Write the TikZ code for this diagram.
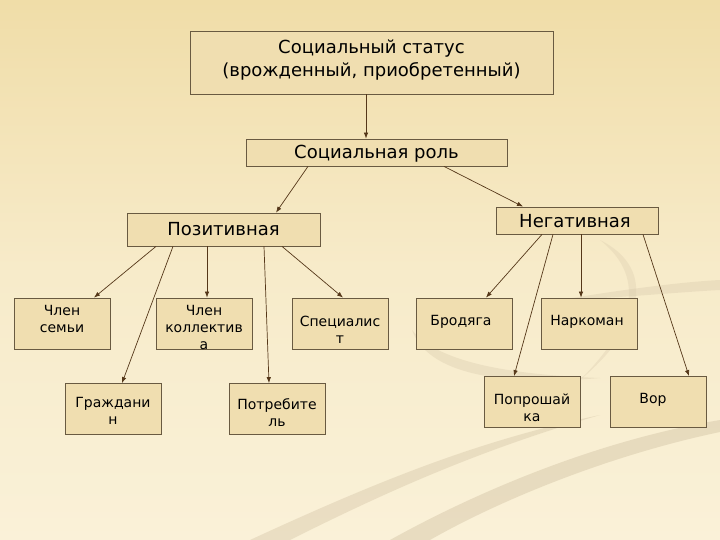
\documentclass[tikz,border=0pt]{standalone}
\usepackage{fontspec}
\setmainfont{DejaVu Sans}
\usetikzlibrary{arrows.meta}
\definecolor{bgtop}{RGB}{240,221,168}
\definecolor{bgbot}{RGB}{250,241,216}
\definecolor{boxfill}{RGB}{240,222,176}
\definecolor{boxline}{RGB}{105,90,65}
\definecolor{arrowc}{RGB}{85,55,25}
\definecolor{swoosh}{RGB}{215,200,170}
\tikzset{
  box/.style={draw=boxline, fill=boxfill, line width=0.8pt, inner sep=0pt},
  smallbox/.style={box, minimum width=96pt, minimum height=51pt},
  txt/.style={align=center, inner sep=0pt, font=\fontsize{14}{17}\selectfont},
  bigtxt/.style={align=center, inner sep=0pt, font=\fontsize{18}{23}\selectfont},
  conn/.style={draw=arrowc, line width=0.7pt, -{Latex[length=6pt,width=4.5pt]}}
}
\begin{document}
\begin{tikzpicture}[x=1pt,y=-1pt]
\useasboundingbox (0,0) rectangle (720,540);
% background
\shade[top color=bgtop, bottom color=bgbot, middle color=bgbot!70!bgtop, shading angle=0] (0,0) rectangle (720,540);
% swooshes
\fill[swoosh, opacity=0.45] (250,540) .. controls (380,480) and (480,440) .. (600,415) .. controls (480,450) and (390,490) .. (290,540) -- cycle;
\fill[swoosh, opacity=0.5] (390,540) .. controls (480,490) and (600,440) .. (720,420) -- (720,432) .. controls (610,455) and (500,500) .. (430,540) -- cycle;
\fill[swoosh, opacity=0.35] (412,330) .. controls (430,380) and (520,385) .. (600,378) .. controls (520,375) and (440,365) .. (412,330) -- cycle;
\fill[swoosh, opacity=0.35] (560,300) .. controls (620,290) and (680,282) .. (720,280) -- (720,290) .. controls (680,292) and (620,298) .. (560,300) -- cycle;
\fill[swoosh, opacity=0.3] (600,240) .. controls (660,270) and (640,330) .. (580,380) .. controls (630,330) and (650,280) .. (600,240) -- cycle;

% boxes
\node[box, minimum width=363pt, minimum height=63pt] (top) at (371.5,62.5) {};
\node[bigtxt] at (371.5,60) {Социальный статус\\(врожденный, приобретенный)};
\node[box, minimum width=261pt, minimum height=27pt] (role) at (376.5,152.5) {};
\node[bigtxt] at (376.5,154) {Социальная роль};
\node[box, minimum width=193pt, minimum height=33pt] (pos) at (223.5,229.5) {};
\node[bigtxt] at (223.5,229) {Позитивная};
\node[box, minimum width=162pt, minimum height=27pt] (neg) at (577,220.5) {};
\node[bigtxt] at (575,221) {Негативная};

\node[smallbox] (fam) at (62,323.5) {};
\node[txt] at (62,318.5) {Член\\семьи};
\node[smallbox] (col) at (204,323.5) {};
\node[txt] at (204,327) {Член\\коллектив\\а};
\node[smallbox] (spec) at (340,323.5) {};
\node[txt] at (340,330) {Специалис\\т};
\node[smallbox] (brod) at (464,323.5) {};
\node[txt] at (461,322) {Бродяга};
\node[smallbox] (nark) at (589,323.5) {};
\node[txt] at (587,322) {Наркоман};
\node[smallbox] (cit) at (113,409) {};
\node[txt] at (113,411) {Граждани\\н};
\node[smallbox] (cons) at (277,409) {};
\node[txt] at (277,413) {Потребите\\ль};
\node[smallbox] (beg) at (532,402) {};
\node[txt] at (532,408) {Попрошай\\ка};
\node[smallbox] (thief) at (658,402) {};
\node[txt] at (653,400) {Вор};

% connectors
\draw[conn] ([xshift=-5.5pt]top.south) -- ([xshift=-10.5pt]role.north);
\draw[conn] ([xshift=-68.5pt]role.south) -- ([xshift=52.5pt]pos.north);
\draw[conn] ([xshift=67.5pt]role.south) -- ([xshift=-54pt]neg.north);

\draw[conn] ([xshift=-67.5pt]pos.south) -- ([xshift=32pt]fam.north);
\draw[conn] ([xshift=-50.5pt]pos.south) -- ([xshift=9pt]cit.north);
\draw[conn] ([xshift=-16.5pt]pos.south) -- ([xshift=3pt]col.north);
\draw[conn] ([xshift=40.5pt]pos.south) -- ([xshift=-8pt]cons.north);
\draw[conn] ([xshift=58.5pt]pos.south) -- ([xshift=3pt]spec.north);

\draw[conn] ([xshift=-35pt]neg.south) -- ([xshift=22pt]brod.north);
\draw[conn] ([xshift=-24pt]neg.south) -- ([xshift=-18pt]beg.north);
\draw[conn] ([xshift=4pt]neg.south) -- ([xshift=-8pt]nark.north);
\draw[conn] ([xshift=66pt]neg.south) -- ([xshift=31pt]thief.north);
\end{tikzpicture}
\end{document}
